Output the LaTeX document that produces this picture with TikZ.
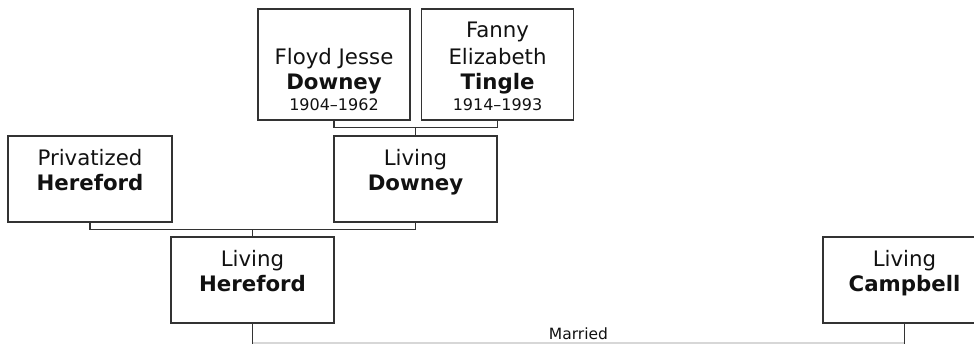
\documentclass[tikz,border=0pt]{standalone}
\usepackage{fontspec}
\setmainfont{DejaVu Sans}
\usetikzlibrary{calc}
\definecolor{linec}{RGB}{51,51,51}
\definecolor{marrc}{RGB}{215,215,215}
\definecolor{textc}{RGB}{17,17,17}
\begin{document}
\begin{tikzpicture}[x=1pt,y=-1pt,
  person/.style={draw=linec, line width=1.15pt, inner sep=0pt, rectangle},
  tall/.style={person, minimum width=152pt, minimum height=111pt},
  short/.style={person, minimum width=163pt, minimum height=86pt},
  nm/.style={anchor=base, inner sep=0pt, text=textc, font=\fontsize{21.3}{25}\selectfont},
  sn/.style={anchor=base, inner sep=0pt, text=textc, font=\fontsize{21.3}{25}\selectfont\bfseries},
  yr/.style={anchor=base, inner sep=0pt, text=textc, font=\fontsize{16}{18}\selectfont},
  conn/.style={draw=linec, line width=1.15pt},
  marr/.style={draw=marrc, line width=1.5pt}]
\clip (0,0) rectangle (974,343);
% boxes
\node[tall] (floyd) at (334,64.5) {};
\node[tall] (fanny) at (497.5,64.5) {};
\node[short, minimum width=164pt] (priv) at (90,179) {};
\node[short] (ldowney) at (415.5,179) {};
\node[short] (lhere) at (252.5,280) {};
\node[short] (lcamp) at (904.5,280) {};
% texts
\node[nm] (t1) at (334,64.3) {Floyd Jesse};
\node[sn] (t2) at (334,89.3) {Downey};
\node[yr] (t3) at (334,110) {1904–1962};
\node[nm] (t4) at (497.5,37.7) {Fanny};
\node[nm] (t5) at (497.5,64.3) {Elizabeth};
\node[sn] (t6) at (497.5,89.3) {Tingle};
\node[yr] (t7) at (497.5,110) {1914–1993};
\node[nm] (t8) at (90,165) {Privatized};
\node[sn] (t9) at (90,190) {Hereford};
\node[nm] (t10) at (415.5,165) {Living};
\node[sn] (t11) at (415.5,190) {Downey};
\node[nm] (t12) at (252.5,266) {Living};
\node[sn] (t13) at (252.5,291) {Hereford};
\node[nm] (t14) at (904.5,266) {Living};
\node[sn] (t15) at (904.5,291) {Campbell};
% connectors
\draw[conn] (floyd.south) -- ++(0,7) -| (fanny.south);
\coordinate (fj) at ($(floyd.south)!0.5!(fanny.south)+(0,7)$);
\draw[conn] (fj) -- (fj |- ldowney.north);
\draw[conn] (priv.south) -- ++(0,7) -| (ldowney.south);
\coordinate (pd) at (lhere.north |- {$(priv.south)+(0,7)$});
\draw[conn] (pd) -- (lhere.north);
% marriage
\coordinate (mA) at ($(lhere.south)+(0,19.5)$);
\coordinate (mB) at ($(lcamp.south)+(0,19.5)$);
\draw[marr] (mA) -- (mB);
\draw[conn] (lhere.south) -- ($(lhere.south)+(0,21)$);
\draw[conn] (lcamp.south) -- ($(lcamp.south)+(0,21)$);
\node[yr, font=\fontsize{15.5}{18}\selectfont] (mlab) at ($(mA)!0.5!(mB)+(0,-3.5)$) {Married};
\end{tikzpicture}
\end{document}
